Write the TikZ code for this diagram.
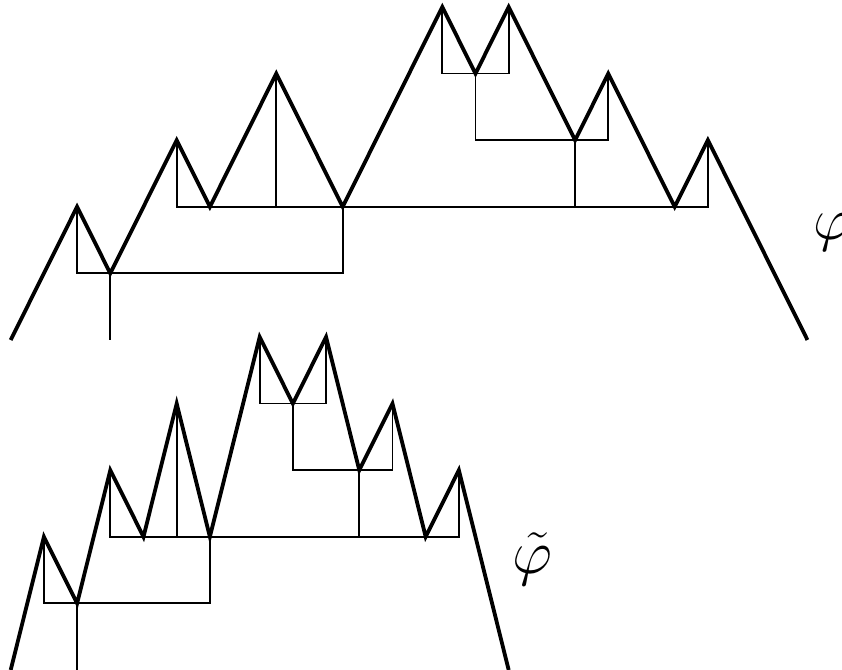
\documentclass[tikz,border=0pt]{standalone}
\usepackage{graphicx}
\usepackage{tikz}

\begin{document}
\begin{tikzpicture}[
    x=33.2pt, y=66.6pt,
    walk/.style={line width=3.8pt},
    branch/.style={line width=1.8pt},
    fnlabel/.style={font=\Huge, inner sep=0pt, anchor=base}
]
    \useasboundingbox (-0.322,0) rectangle (25.04,10.06);

    % vertices of the two contour paths
    \foreach \px/\h [count=\i from 0] in {0/0,2/2,3/1,5/3,6/2,8/4,10/2,13/5,14/4,15/5,17/3,18/4,20/2,21/3,24/0}
        \coordinate (a\i) at (\px,4.955+\h);
    \foreach \px/\h [count=\i from 0] in {0/0,1/2,2/1,3/3,4/2,5/4,6/2,7.5/5,8.5/4,9.5/5,10.5/3,11.5/4,12.5/2,13.5/3,15/0}
        \coordinate (b\i) at (\px,\h);

    \foreach \w in {a,b} {
        \draw[walk] (\w0) -- (\w1) -- (\w2) -- (\w3) -- (\w4) -- (\w5) -- (\w6) -- (\w7)
            -- (\w8) -- (\w9) -- (\w10) -- (\w11) -- (\w12) -- (\w13) -- (\w14);
        % tree branches
        \draw[branch] (\w1) |- (\w2) -| (\w6);
        \draw[branch] (\w2) -- (\w2 |- \w0);
        \draw[branch] (\w3) |- (\w4) -| (\w13);
        \draw[branch] (\w5) -- (\w5 |- \w4);
        \draw[branch] (\w10) -- (\w10 |- \w4);
        \draw[branch] (\w8) |- (\w10) -| (\w11);
        \draw[branch] (\w7) |- (\w8) -| (\w9);
    }

    \node[fnlabel] (phi) at (24.77,6.47) {\scalebox{2.4}{$\varphi$}};
    \node[fnlabel] (phitilde) at (15.73,1.45) {\scalebox{2.5}{$\tilde{\varphi}$}};
\end{tikzpicture}
\end{document}
